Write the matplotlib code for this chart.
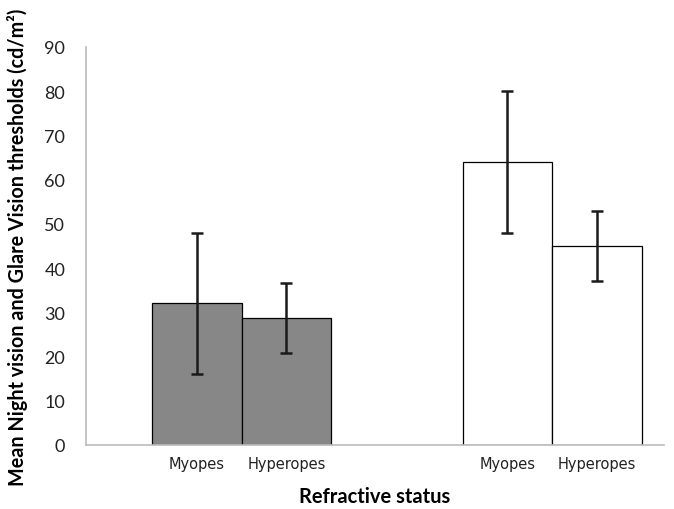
import matplotlib
matplotlib.use("Agg")
import matplotlib.pyplot as plt
import numpy as np

groups = ["Night vision", "Glare vision"]
labels = ["Myopes", "Hyperopes", "Myopes", "Hyperopes"]
means = [32, 28.7, 64, 45]
errors = [16, 8, 16, 8]
colors = ["#878787", "#878787", "#FFFFFF", "#FFFFFF"]
positions = [1.24, 2.24, 4.71, 5.71]

fig = plt.figure(figsize=(6.74, 5.1), dpi=100)
ax = fig.add_axes([0.1276, 0.1255, 0.8574, 0.7805])

ax.bar(positions, means, width=1.0, color=colors, edgecolor="black",
       linewidth=0.9, zorder=2)
ax.errorbar(positions, means, yerr=errors, fmt="none", ecolor="#1a1a1a",
            elinewidth=1.8, capsize=4.5, capthick=1.8, zorder=3)

ax.set_xlim(0, 6.46)
ax.set_ylim(0, 90)
ax.set_yticks(np.arange(0, 91, 10))
ax.set_xticks(positions)
ax.set_xticklabels(labels, fontsize=10.5, family="DejaVu Sans", color="#222222")

for lbl in ax.get_yticklabels():
    lbl.set_family("Lato")
    lbl.set_fontsize(13)
    lbl.set_color("#222222")

ax.tick_params(axis="both", length=0)
ax.tick_params(axis="y", pad=15)
ax.tick_params(axis="x", pad=8)

for side in ["top", "right"]:
    ax.spines[side].set_visible(False)
ax.spines["left"].set_color("#BBBBBB")
ax.spines["bottom"].set_color("#BBBBBB")
ax.spines["left"].set_linewidth(1.2)
ax.spines["bottom"].set_linewidth(1.2)

ax.set_ylabel("Mean Night vision and Glare Vision thresholds (cd/m²)",
              fontsize=14.2, fontweight="bold", family="Lato", labelpad=12)
ax.set_xlabel("Refractive status", fontsize=14.5, fontweight="bold",
              family="Lato", labelpad=11)

fig.savefig("out.png", dpi=100)
